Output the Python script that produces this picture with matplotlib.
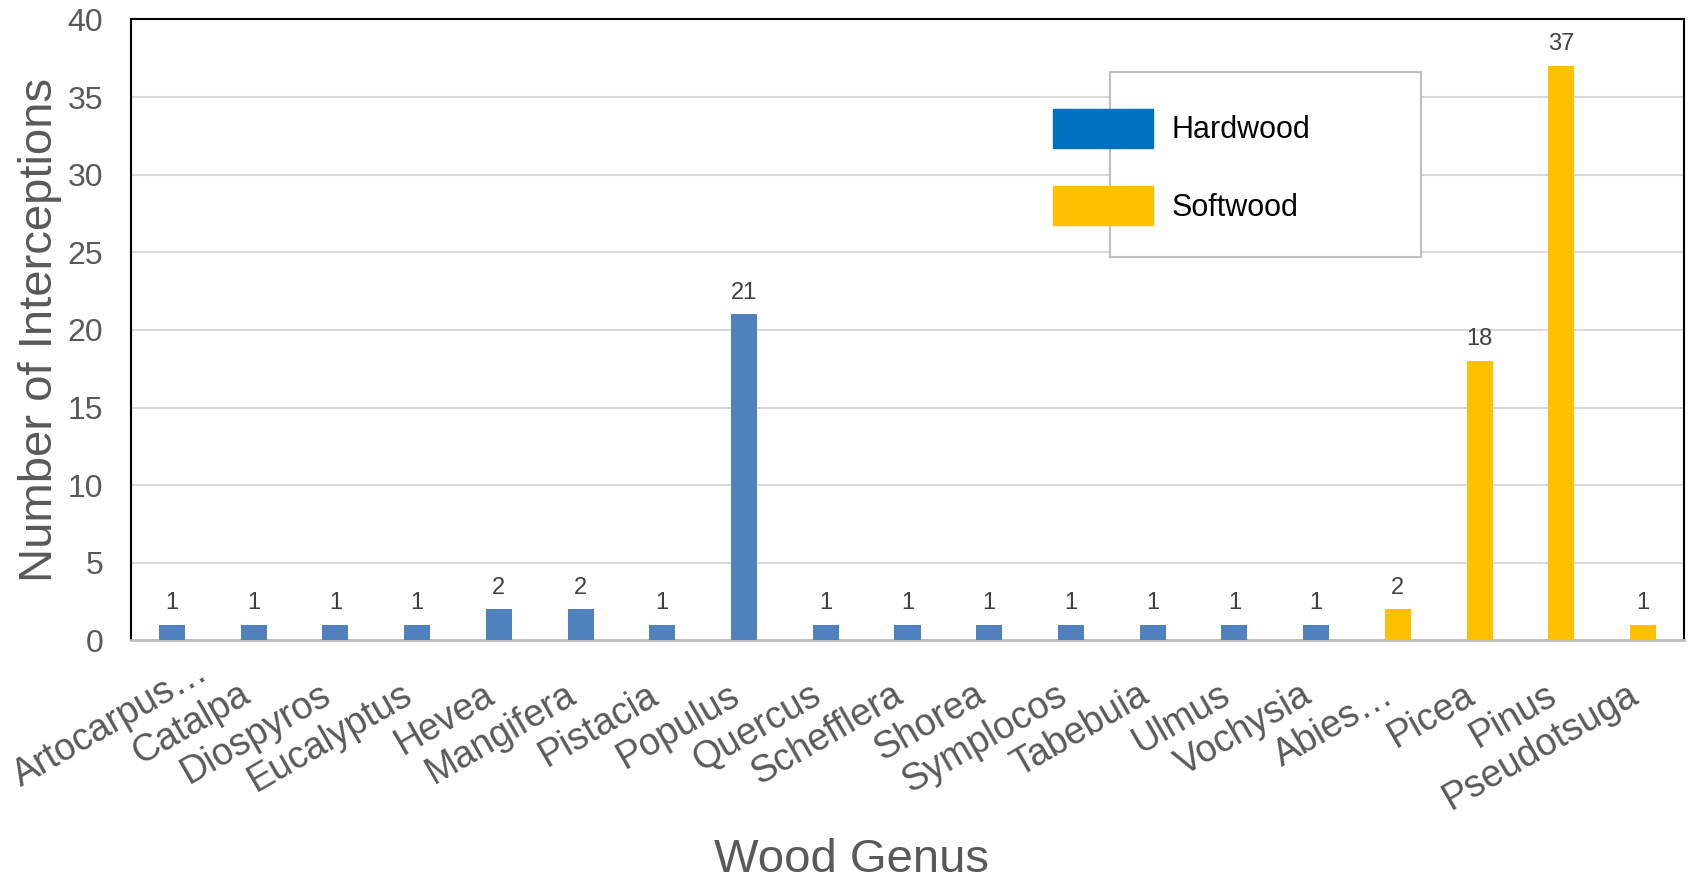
import matplotlib
matplotlib.use('Agg')
import matplotlib.pyplot as plt
import matplotlib.transforms as mtransforms
from matplotlib.patches import Patch, Rectangle

plt.rcParams['font.family'] = ['Liberation Sans', 'DejaVu Sans']

genera = ['Artocarpus…', 'Catalpa', 'Diospyros', 'Eucalyptus', 'Hevea', 'Mangifera',
          'Pistacia', 'Populus', 'Quercus', 'Schefflera', 'Shorea', 'Symplocos',
          'Tabebuia', 'Ulmus', 'Vochysia', 'Abies…', 'Picea', 'Pinus', 'Pseudotsuga']
counts = [1, 1, 1, 1, 2, 2, 1, 21, 1, 1, 1, 1, 1, 1, 1, 2, 18, 37, 1]
wood_type = ['Hardwood'] * 15 + ['Softwood'] * 4

bar_colors = {'Hardwood': '#4F81BD', 'Softwood': '#FFC000'}
legend_colors = {'Hardwood': '#0070C0', 'Softwood': '#FFC000'}

fig = plt.figure(figsize=(16.89, 8.81), dpi=100)
ax = fig.add_axes([0.0776, 0.273, 0.9194, 0.705])

x = list(range(len(genera)))
ax.bar(x, counts, width=0.32, color=[bar_colors[t] for t in wood_type], zorder=3)

for xi, c in zip(x, counts):
    ax.text(xi, c + 0.7, str(c), ha='center', va='bottom', fontsize=17, color='#404040')

ax.set_xlim(-0.5, len(genera) - 0.5)
ax.set_ylim(0, 40)
ax.set_yticks(range(0, 41, 5))
ax.yaxis.grid(True, color='#D9D9D9', linewidth=1.5, zorder=0)
ax.tick_params(axis='y', length=0, labelsize=23, labelcolor='#595959', pad=20)
ax.tick_params(axis='x', length=0, labelsize=27, labelcolor='#595959', pad=26)

ax.set_xticks(x)
ax.set_xticklabels(genera, rotation=30, ha='right', rotation_mode='anchor')
for i, lbl in enumerate(ax.get_xticklabels()):
    # first label is slid along its baseline so it stays inside the figure
    dx, dy = (0.24, 0.23) if i == 0 else (-0.16, 0)
    lbl.set_transform(lbl.get_transform()
                      + mtransforms.ScaledTranslation(dx, dy, fig.dpi_scale_trans))

for s in ['left', 'top', 'right']:
    ax.spines[s].set_color('black')
    ax.spines[s].set_linewidth(1.5)
ax.spines['bottom'].set_color('#BFBFBF')
ax.spines['bottom'].set_linewidth(2)

ax.set_ylabel('Number of Interceptions', fontsize=34, color='#595959', labelpad=4)
ax.set_xlabel('Wood Genus', fontsize=34, color='#595959')
ax.xaxis.set_label_coords(0.464, -0.318)

# legend frame drawn separately (handles stick out of the box in the original)
frame = Rectangle((0.6307, 0.6179), 0.1997, 0.2968, transform=ax.transAxes,
                  facecolor='white', edgecolor='#BFBFBF', linewidth=1.5, zorder=4)
ax.add_patch(frame)
handles = [Patch(color=legend_colors[k]) for k in ['Hardwood', 'Softwood']]
ax.legend(handles, ['Hardwood', 'Softwood'], loc='upper left',
          bbox_to_anchor=(0.576, 0.9), frameon=False, fontsize=22,
          handlelength=3.27, handleheight=1.58, labelspacing=1.26,
          handletextpad=0.6).set_zorder(5)

fig.savefig('out.png', dpi=100)
